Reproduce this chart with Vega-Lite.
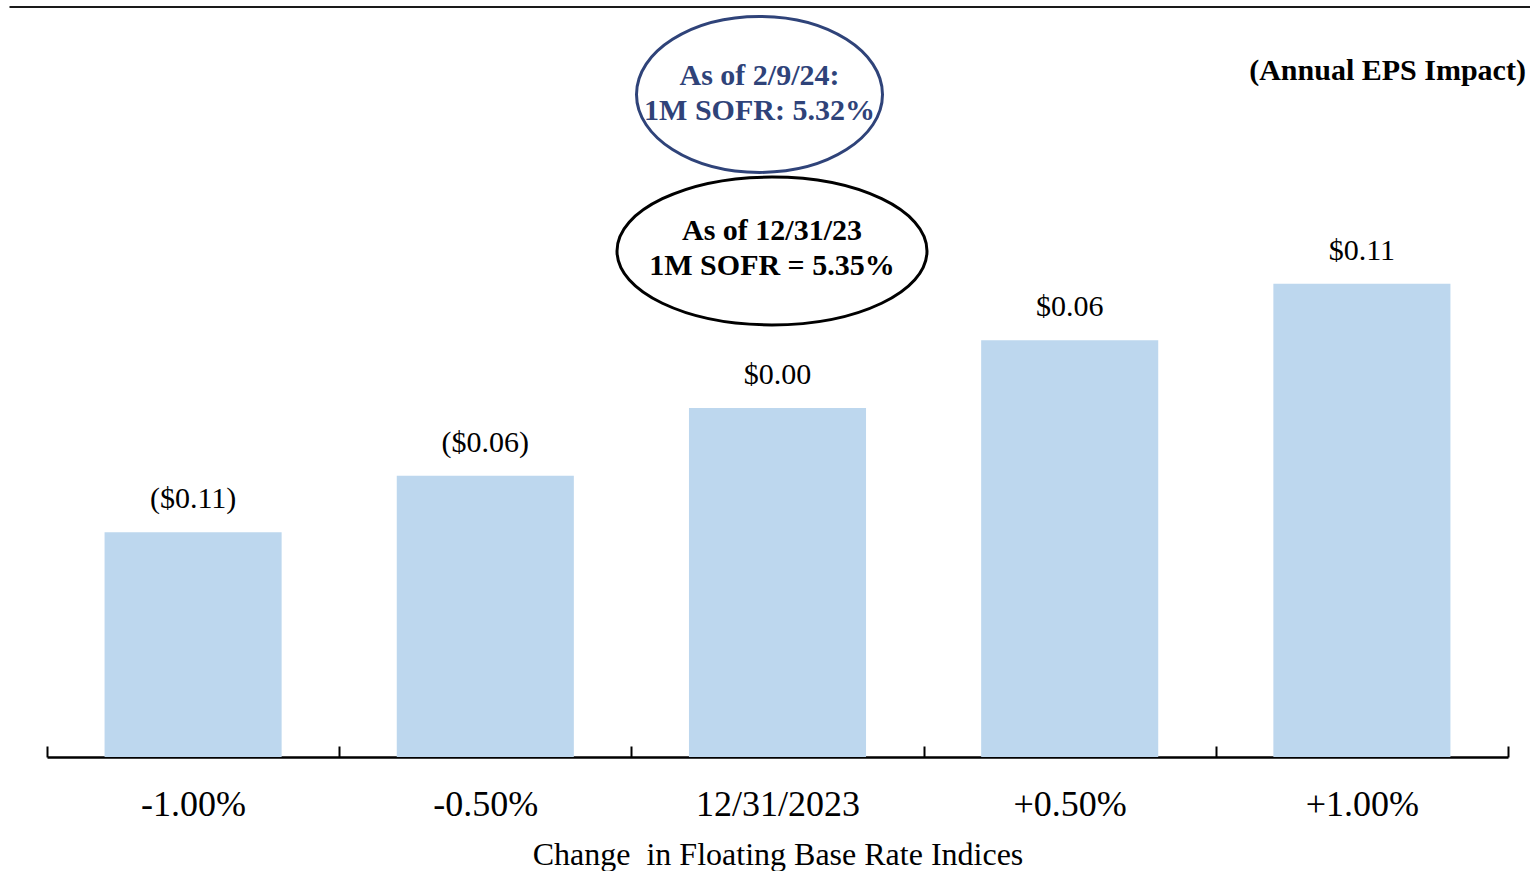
{
  "$schema": "https://vega.github.io/schema/vega-lite/v6.json",
  "width": 1461,
  "height": 750,
  "autosize": {"type": "none"},
  "padding": {"left": 47, "top": 7, "right": 22, "bottom": 114},
  "background": "white",
  "config": {"view": {"stroke": null}, "font": "Liberation Serif"},
  "data": {
    "values": [
      {"change": "-1.00%", "eps": -0.11, "label": "($0.11)"},
      {"change": "-0.50%", "eps": -0.06, "label": "($0.06)"},
      {"change": "12/31/2023", "eps": 0.0, "label": "$0.00"},
      {"change": "+0.50%", "eps": 0.06, "label": "$0.06"},
      {"change": "+1.00%", "eps": 0.11, "label": "$0.11"}
    ]
  },
  "layer": [
    {
      "mark": {"type": "bar", "color": "#bdd7ee", "width": {"band": 0.606}},
      "encoding": {
        "x": {
          "field": "change",
          "type": "nominal",
          "sort": null,
          "scale": {"paddingInner": 0, "paddingOuter": 0},
          "axis": {
            "title": "Change\u00a0 in Floating Base Rate Indices",
            "titleFont": "Liberation Serif",
            "titleFontSize": 32,
            "titleFontWeight": "normal",
            "titleColor": "black",
            "titlePadding": 17,
            "labelFont": "Liberation Serif",
            "labelFontSize": 36,
            "labelColor": "black",
            "labelAngle": 0,
            "labelPadding": 41,
            "domainColor": "black",
            "domainWidth": 2.5,
            "tickColor": "black",
            "tickWidth": 2,
            "tickSize": -11,
            "tickBand": "extent",
            "grid": false
          }
        },
        "y": {
          "field": "eps",
          "type": "quantitative",
          "scale": {"domain": [-0.309, 0.355], "nice": false, "zero": false},
          "axis": null
        },
        "y2": {"datum": -0.309}
      }
    },
    {
      "mark": {"type": "text", "fontSize": 30, "color": "black", "baseline": "alphabetic", "dy": -24},
      "encoding": {
        "x": {"field": "change", "type": "nominal", "sort": null},
        "y": {"field": "eps", "type": "quantitative"},
        "text": {"field": "label"}
      }
    },
    {
      "transform": [{"filter": "datum.change === '12/31/2023'"}],
      "encoding": {"x": {"field": "change", "type": "nominal", "sort": null}},
      "layer": [
        {
          "mark": {
            "type": "point",
            "shape": "M-1,0A1,0.634,0,1,0,1,0A1,0.634,0,1,0,-1,0Z",
            "size": 60516,
            "filled": true,
            "fill": "white",
            "fillOpacity": 1,
            "opacity": 1,
            "stroke": "#2f4379",
            "strokeWidth": 3,
            "xOffset": -18
          },
          "encoding": {"y": {"datum": 0.2776}}
        },
        {
          "mark": {
            "type": "point",
            "shape": "M-1,0A1,0.477,0,1,0,1,0A1,0.477,0,1,0,-1,0Z",
            "size": 96100,
            "filled": true,
            "fill": "white",
            "fillOpacity": 1,
            "opacity": 1,
            "stroke": "black",
            "strokeWidth": 3,
            "xOffset": -5.5
          },
          "encoding": {"y": {"datum": 0.139}}
        },
        {
          "mark": {
            "type": "text",
            "text": ["As of 2/9/24:", "1M SOFR: 5.32%"],
            "fontSize": 30,
            "fontWeight": "bold",
            "color": "#2f4379",
            "lineHeight": 35,
            "baseline": "middle",
            "align": "center",
            "xOffset": -18
          },
          "encoding": {"y": {"datum": 0.2943}}
        },
        {
          "mark": {
            "type": "text",
            "text": ["As of 12/31/23", "1M SOFR = 5.35%"],
            "fontSize": 30,
            "fontWeight": "bold",
            "color": "black",
            "lineHeight": 35,
            "baseline": "middle",
            "align": "center",
            "xOffset": -5.5
          },
          "encoding": {"y": {"datum": 0.1571}}
        }
      ]
    },
    {
      "transform": [{"filter": "datum.change === '+1.00%'"}],
      "mark": {
        "type": "text",
        "text": "(Annual EPS Impact)",
        "fontSize": 30,
        "fontWeight": "bold",
        "color": "black",
        "baseline": "middle",
        "align": "right",
        "xOffset": 164
      },
      "encoding": {
        "x": {"field": "change", "type": "nominal", "sort": null},
        "y": {"datum": 0.298}
      }
    },
    {
      "mark": {"type": "rule", "color": "#1a1a1a", "strokeWidth": 2, "xOffset": 22},
      "encoding": {"y": {"datum": 0.355}}
    },
    {
      "transform": [{"filter": "datum.change === '-1.00%'"}],
      "mark": {"type": "tick", "color": "#1a1a1a", "thickness": 2, "size": 180, "opacity": 1, "xOffset": -93.6},
      "encoding": {
        "x": {"field": "change", "type": "nominal", "sort": null},
        "y": {"datum": 0.355}
      }
    }
  ]
}
